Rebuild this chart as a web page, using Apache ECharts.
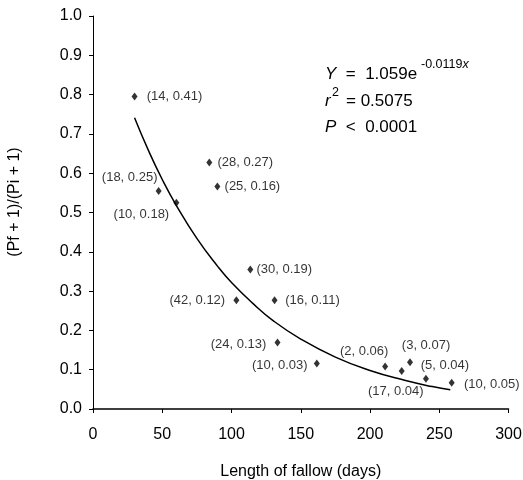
<!DOCTYPE html>
<html>
<head>
<meta charset="utf-8">
<script src="https://cdn.jsdelivr.net/npm/echarts@6/dist/echarts.min.js"></script>
<style>html,body{margin:0;padding:0;background:#fff;}#c{width:523px;height:480px;}</style>
</head>
<body>
<div id="c"></div>
<script>
var fallowDays = [30, 47.4, 60.2, 84, 89.8, 113.6, 103.5, 131.1, 133.2, 161.6, 210.9, 228.9, 222.9, 240.4, 259];
var ratio = [0.795, 0.555, 0.525, 0.627, 0.566, 0.355, 0.277, 0.277, 0.169, 0.116, 0.108, 0.119, 0.097, 0.077, 0.067];
var pointLabels = ['(14, 0.41)', '(18, 0.25)', '(10, 0.18)', '(28, 0.27)', '(25, 0.16)', '(30, 0.19)', '(42, 0.12)', '(16, 0.11)', '(24, 0.13)', '(10, 0.03)', '(2, 0.06)', '(3, 0.07)', '(17, 0.04)', '(5, 0.04)', '(10, 0.05)'];
// Fitted curve
var curveX = [30, 40, 50, 60, 75, 90, 100, 115, 130, 150, 175, 200, 225, 245, 258];
var curveY = [0.741, 0.658, 0.584, 0.519, 0.434, 0.363, 0.322, 0.270, 0.225, 0.178, 0.132, 0.098, 0.073, 0.057, 0.049];
// Axis ticks
var xTicks = [0, 50, 100, 150, 200, 250, 300];
var yTicks = [0.0, 0.1, 0.2, 0.3, 0.4, 0.5, 0.6, 0.7, 0.8, 0.9, 1.0];

var FONT = '"Liberation Sans", Arial, Helvetica, sans-serif';
// label offsets (layout, px from marker center)
var labelOffsets = [[40,0],[-29,-13],[-35,12],[36,0],[35,0],[34,0],[-39,0],[38,0],[-39,2],[-37,2],[-21,-15],[16,-17],[-6,21],[19,-13],[40,2]];

var scatterData = fallowDays.map(function (x, i) {
  return {
    value: [x, ratio[i]],
    label: {
      show: true,
      formatter: pointLabels[i],
      position: 'inside',
      offset: labelOffsets[i],
      align: 'center',
      verticalAlign: 'middle',
      color: '#000',
      fontSize: 13,
      fontFamily: FONT
    }
  };
});
var curveData = curveX.map(function (x, i) { return [x, curveY[i]]; });

var chart = echarts.init(document.getElementById('c'), null, {renderer: 'canvas'});
chart.setOption({
  backgroundColor: '#fff',
  animation: false,
  grid: {left: 93, right: 14.5, top: 16, bottom: 71, containLabel: false, outerBoundsMode: 'none'},
  xAxis: {
    type: 'value', min: xTicks[0], max: xTicks[xTicks.length - 1], interval: 50,
    name: 'Length of fallow (days)', nameLocation: 'middle', nameGap: 55,
    nameTextStyle: {color: '#000', fontSize: 16, fontFamily: FONT},
    axisLine: {show: true, lineStyle: {color: '#000', width: 1.5}},
    axisTick: {show: true, inside: false, length: 4, lineStyle: {color: '#000'}},
    axisLabel: {color: '#000', fontSize: 16, fontFamily: FONT, margin: 18},
    splitLine: {show: false}
  },
  yAxis: {
    type: 'value', min: yTicks[0], max: yTicks[yTicks.length - 1], interval: 0.1,
    axisLine: {show: true, lineStyle: {color: '#000', width: 1}},
    axisTick: {show: true, inside: false, length: 4, lineStyle: {color: '#000'}},
    axisLabel: {color: '#000', fontSize: 16, fontFamily: FONT, margin: 11,
      formatter: function (v) { return v.toFixed(1); }},
    splitLine: {show: false}
  },
  series: [
    {
      type: 'line', data: curveData, smooth: true, showSymbol: false, symbol: 'none',
      lineStyle: {color: '#000', width: 1.5}, z: 2, silent: true
    },
    {
      type: 'scatter', data: scatterData, symbol: 'diamond', symbolSize: [6, 8],
      itemStyle: {color: '#000'}, z: 3
    }
  ],
  graphic: [
    {type: 'text', x: 15, y: 202, rotation: Math.PI / 2,
      style: {text: '(Pf + 1)/(Pi + 1)', fill: '#000', font: '16px ' + FONT, align: 'center', verticalAlign: 'middle'}},
    {type: 'text', left: 325, top: 66, style: {text: '{i|Y}  =  1.059e', fill: '#000', font: '17px ' + FONT,
      rich: {i: {fontStyle: 'italic', fontSize: 17, fontFamily: FONT}}}},
    {type: 'text', left: 421, top: 58, style: {text: '-0.0119{i|x}', fill: '#000', font: '12.5px ' + FONT,
      rich: {i: {fontStyle: 'italic', fontSize: 12.5, fontFamily: FONT}}}},
    {type: 'text', left: 325, top: 93, style: {text: 'r', fill: '#000', font: 'italic 17px ' + FONT}},
    {type: 'text', left: 332, top: 86, style: {text: '2', fill: '#000', font: '12.5px ' + FONT}},
    {type: 'text', left: 346, top: 93, style: {text: '= 0.5075', fill: '#000', font: '17px ' + FONT}},
    {type: 'text', left: 325, top: 119, style: {text: '{i|P}  <  0.0001', fill: '#000', font: '17px ' + FONT,
      rich: {i: {fontStyle: 'italic', fontSize: 17, fontFamily: FONT}}}}
  ]
});
</script>
</body>
</html>
